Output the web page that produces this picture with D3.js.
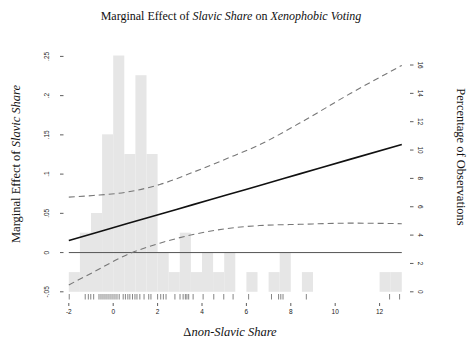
<!DOCTYPE html>
<html><head><meta charset="utf-8">
<script src="https://cdn.jsdelivr.net/npm/d3@7"></script>
<style>
html,body{margin:0;padding:0;background:#fff;}
svg{display:block;}
.serif{font-family:"Liberation Serif","DejaVu Serif",serif;}
.sans{font-family:"Liberation Sans","DejaVu Sans",sans-serif;}
</style></head>
<body>
<script>
// ---- data ----
const binStarts = [-2,-1.5,-1,-0.5,0,0.5,1,1.5,2,2.5,3,3.5,4,4.5,5,5.5,6,6.5,7,7.5,8,8.5,9,9.5,10,10.5,11,11.5,12,12.5];
const binPct    = [1.39,4.17,5.56,11.11,16.67,9.72,15.28,9.72,2.78,1.39,4.17,1.39,2.78,1.39,2.78,0,1.39,0,1.39,2.78,0,1.39,0,0,0,0,0,0,1.39,1.39];
const binWidth = 0.5;

const lineX     = [-2, -0.9, 0.6, 2.1, 3.6, 5.1, 6.6, 8.4, 10.7, 13];
const effect    = [0.0153, 0.0243, 0.0366, 0.0488, 0.0611, 0.0733, 0.0856, 0.1003, 0.1191, 0.1378];
const upperCI   = [0.0706, 0.0727, 0.0770, 0.0867, 0.1024, 0.1195, 0.1375, 0.1650, 0.2030, 0.2385];
const lowerCI   = [-0.0412, -0.0250, -0.0030, 0.0119, 0.0230, 0.0305, 0.0344, 0.0360, 0.0375, 0.0368];

const rugValues = [-1.98,-1.26,-1.12,-1.01,-0.88,-0.64,-0.55,-0.46,-0.37,-0.28,-0.19,-0.1,-0.01,0.08,0.17,0.27,
  0.45,0.55,0.66,0.75,0.87,0.98,1.07,1.2,1.39,1.6,1.7,2.0,2.14,2.26,2.38,2.78,3.01,3.15,3.25,3.32,3.4,3.6,
  4.05,4.53,4.98,5.4,6.1,7.13,7.45,7.55,7.65,8.7,12.45,12.9];

const xTicks = [-2,0,2,4,6,8,10,12];
const yLeftTicks = [-0.05,0,0.05,0.1,0.15,0.2,0.25];
const yLeftLabels = ["-.05","0",".05",".1",".15",".2",".25"];
const yRightTicks = [0,2,4,6,8,10,12,14,16];

// ---- layout ----
const W = 474, H = 344;
const svg = d3.select("body").append("svg").attr("width", W).attr("height", H);

const x = d3.scaleLinear().domain([-2, 13]).range([68.8, 401.8]);
const yL = d3.scaleLinear().domain([-0.05, 0.25]).range([291.8, 56.4]);
const yR = d3.scaleLinear().domain([0, 16]).range([291.8, 65]);

// histogram
svg.append("g").selectAll("rect").data(binStarts.map((s,i)=>({s, p: binPct[i]})).filter(d=>d.p>0))
  .join("rect")
  .attr("x", d => x(d.s))
  .attr("width", d => x(d.s + binWidth) - x(d.s))
  .attr("y", d => yR(d.p))
  .attr("height", d => yR(0) - yR(d.p))
  .attr("fill", "#e6e6e6");

// zero line
svg.append("line")
  .attr("x1", x(-2)).attr("x2", x(13))
  .attr("y1", yL(0)).attr("y2", yL(0))
  .attr("stroke", "#555").attr("stroke-width", 1);

const ln = (arr) => d3.line().x((d,i)=>x(lineX[i])).y(d=>yL(d)).curve(d3.curveMonotoneX)(arr);

svg.append("path").attr("d", ln(upperCI)).attr("fill","none")
  .attr("stroke","#777").attr("stroke-width",1.1).attr("stroke-dasharray","6,4");
svg.append("path").attr("d", ln(lowerCI)).attr("fill","none")
  .attr("stroke","#777").attr("stroke-width",1.1).attr("stroke-dasharray","6,4");
svg.append("path").attr("d", ln(effect)).attr("fill","none")
  .attr("stroke","#111").attr("stroke-width",1.6);

// rug
svg.append("g").selectAll("line").data(rugValues).join("line")
  .attr("x1", d=>x(d)).attr("x2", d=>x(d))
  .attr("y1", 294).attr("y2", 299.5)
  .attr("stroke", "#666").attr("stroke-width", 0.8);

// x axis ticks
const gx = svg.append("g");
gx.selectAll("line").data(xTicks).join("line")
  .attr("x1", d=>x(d)).attr("x2", d=>x(d))
  .attr("y1", 303).attr("y2", 306)
  .attr("stroke", "#333").attr("stroke-width", 0.8);
gx.selectAll("text").data(xTicks).join("text")
  .attr("class","sans")
  .attr("x", d=>x(d)).attr("y", 313.5)
  .attr("text-anchor","middle")
  .attr("font-size", 6.5).attr("fill","#222")
  .text(d=>d);

// left axis
const gl = svg.append("g");
gl.selectAll("line").data(yLeftTicks).join("line")
  .attr("x1", 60).attr("x2", 63.5)
  .attr("y1", d=>yL(d)).attr("y2", d=>yL(d))
  .attr("stroke", "#333").attr("stroke-width", 0.8);
gl.selectAll("text").data(yLeftTicks).join("text")
  .attr("class","sans")
  .attr("transform", d=>`translate(48.5,${yL(d)}) rotate(-90)`)
  .attr("text-anchor","middle")
  .attr("font-size", 6.5).attr("fill","#222")
  .text((d,i)=>yLeftLabels[i]);

// right axis
const gr = svg.append("g");
gr.selectAll("line").data(yRightTicks).join("line")
  .attr("x1", 410).attr("x2", 413.5)
  .attr("y1", d=>yR(d)).attr("y2", d=>yR(d))
  .attr("stroke", "#333").attr("stroke-width", 0.8);
gr.selectAll("text").data(yRightTicks).join("text")
  .attr("class","sans")
  .attr("transform", d=>`translate(417.5,${yR(d)}) rotate(90)`)
  .attr("text-anchor","middle")
  .attr("font-size", 6.5).attr("fill","#222")
  .text(d=>d);

// title
const title = svg.append("text").attr("class","serif").attr("x", 231).attr("y", 20)
  .attr("text-anchor","middle").attr("font-size", 12).attr("fill","#111");
title.append("tspan").text("Marginal Effect of ");
title.append("tspan").attr("font-style","italic").text("Slavic Share");
title.append("tspan").text(" on ");
title.append("tspan").attr("font-style","italic").text("Xenophobic Voting");

// left y label
const yl = svg.append("text").attr("class","serif").attr("transform","translate(20,164) rotate(-90)")
  .attr("text-anchor","middle").attr("font-size", 12.5).attr("fill","#111");
yl.append("tspan").text("Marginal Effect of ");
yl.append("tspan").attr("font-style","italic").text("Slavic Share");

// right y label
svg.append("text").attr("class","serif").attr("transform","translate(457,157) rotate(90)")
  .attr("text-anchor","middle").attr("font-size", 12.5).attr("fill","#111")
  .text("Percentage of Observations");

// x label
const xl = svg.append("text").attr("class","serif").attr("x", 230).attr("y", 336)
  .attr("text-anchor","middle").attr("font-size", 12.5).attr("fill","#111");
xl.append("tspan").text("Δ");
xl.append("tspan").attr("font-style","italic").text("non-Slavic Share");
</script>
</body></html>
